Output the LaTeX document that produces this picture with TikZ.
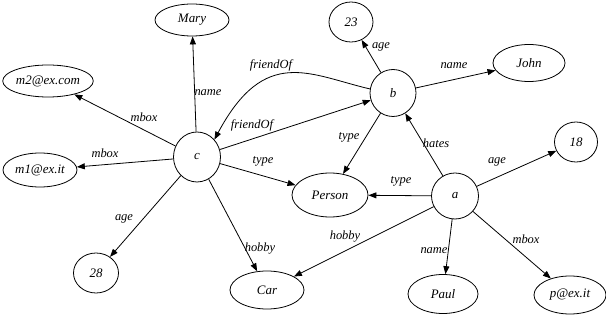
\documentclass[tikz,border=0pt]{standalone}
\usepackage{fontspec}
\setmainfont{Liberation Serif}
\usetikzlibrary{arrows.meta}
\usetikzlibrary{shapes.geometric}

\tikzset{
  res/.style={draw,ellipse,inner sep=0pt,line width=0.8bp,font=\itshape\fontsize{13}{15}\selectfont},
  lbl/.style={draw=none,inner sep=0pt,font=\itshape\fontsize{12.5}{14}\selectfont},
}

\begin{document}
\begin{tikzpicture}[>={Triangle[length=8bp,width=6bp]},line join=bevel,line width=0.8bp]
\useasboundingbox (0bp,0bp) rectangle (606bp,322bp);
%%
\node (node_c) at (197bp,165bp) [res,minimum width=47bp,minimum height=50bp] {c};
  \node (node_b) at (393bp,229bp) [res,minimum width=46bp,minimum height=47bp] {b};
  \node (node_a) at (455bp,126bp) [res,minimum width=47bp,minimum height=46bp] {a};
  \node (node_mary) at (192bp,302bp) [res,minimum width=74bp,minimum height=32bp] {Mary};
  \node (node_m2) at (48bp,241bp) [res,minimum width=90bp,minimum height=32bp] {m2@ex.com};
  \node (node_m1) at (40bp,152bp) [res,minimum width=74bp,minimum height=34bp] {m1@ex.it};
  \node (node_28) at (96bp,49bp) [res,minimum width=45bp,minimum height=40bp] {28};
  \node (node_car) at (267bp,32bp) [res,minimum width=74bp,minimum height=38bp] {Car};
  \node (node_person) at (330bp,127bp) [res,minimum width=76bp,minimum height=44bp] {Person};
  \node (node_23) at (351bp,300bp) [res,minimum width=44bp,minimum height=40bp] {23};
  \node (node_john) at (529bp,259bp) [res,minimum width=72bp,minimum height=37bp] {John};
  \node (node_18) at (576bp,180bp) [res,minimum width=43bp,minimum height=40bp] {18};
  \node (node_paul) at (443bp,28bp) [res,minimum width=70bp,minimum height=39bp] {Paul};
  \node (node_pex) at (570bp,27bp) [res,minimum width=72bp,minimum height=38bp] {p@ex.it};
  \draw [black,->] (node_c) -- (node_mary) node [lbl] at (208bp,229bp) {name};
  \draw [black,->] (node_c) -- (node_m2) node [lbl] at (144bp,205bp) {mbox};
  \draw [black,->] (node_c) -- (node_m1) node [lbl] at (105bp,169bp) {mbox};
  \draw [black,->] (node_c) -- (node_28) node [lbl] at (124bp,103bp) {age};
  \draw [black,->] (node_c) -- (node_car) node [lbl] at (260bp,73bp) {hobby};
  \draw [black,->] (node_c) -- (node_person) node [lbl] at (263bp,161bp) {type};
  \draw [black,->] (node_c) -- (node_b) node [lbl] at (252bp,197bp) {friendOf};
  \draw [black,->] (node_b.170) ..controls (310bp,247bp) and (265bp,277bp)  .. (node_c.45) node [lbl] at (271bp,257bp) {friendOf};
  \draw [black,->] (node_b) -- (node_23) node [lbl] at (381bp,275bp) {age};
  \draw [black,->] (node_b) -- (node_john) node [lbl] at (454bp,256bp) {name};
  \draw [black,->] (node_b) -- (node_person) node [lbl] at (349bp,185bp) {type};
  \draw [black,->] (node_a) -- (node_b) node [lbl] at (436bp,179bp) {hates};
  \draw [black,->] (node_a) -- (node_18) node [lbl] at (497bp,160bp) {age};
  \draw [black,->] (node_a) -- (node_person) node [lbl] at (401bp,141bp) {type};
  \draw [black,->] (node_a) -- (node_car) node [lbl] at (345bp,85bp) {hobby};
  \draw [black,->] (node_a) -- (node_paul) node [lbl] at (434bp,71bp) {name};
  \draw [black,->] (node_a) -- (node_pex) node [lbl] at (526bp,83bp) {mbox};
%
\end{tikzpicture}
\end{document}
